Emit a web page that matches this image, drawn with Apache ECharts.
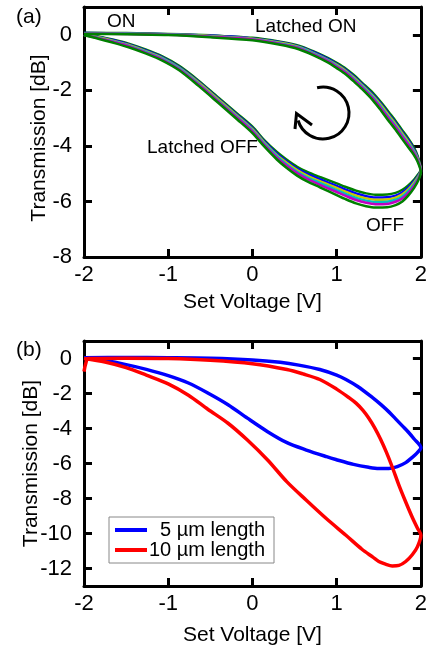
<!DOCTYPE html>
<html>
<head>
<meta charset="utf-8">
<script src="https://cdn.jsdelivr.net/npm/echarts@6/dist/echarts.min.js"></script>
<style>
html,body{margin:0;padding:0;background:#fff;}
#chart{width:430px;height:650px;}
</style>
</head>
<body>
<div id="chart"></div>
<script>
// ---------- Data ----------
const xTicks = [-2, -1, 0, 1, 2];
const aYTicks = [-8, -6, -4, -2, 0];
const bYTicks = [-12, -10, -8, -6, -4, -2, 0];

// Panel (a): set voltage along the sweep (latched-ON branch up to 2 V, then back down to -2 V)
const aVolt = [-2, -1.5, -1, -0.5, 0, 0.33, 0.55, 0.72, 0.9, 1.0, 1.11, 1.2, 1.3, 1.43, 1.53, 1.62, 1.7, 1.77, 1.85, 1.91, 1.96, 2,
  1.97, 1.92, 1.85, 1.78, 1.70, 1.6, 1.46, 1.35, 1.23, 1.1, 1.0, 0.8, 0.65, 0.53, 0.4, 0.29, 0.14, 0, -0.18, -0.41, -0.64, -0.87, -1.07, -1.27, -1.47, -1.66, -1.83, -2];
const aTrace1 = [0.07, 0.06, 0.03, -0.02, -0.11, -0.25, -0.39, -0.59, -0.84, -1.01, -1.22, -1.44, -1.72, -2.09, -2.44, -2.79, -3.1, -3.4, -3.73, -4.02, -4.35, -4.86,
  -5.01, -5.21, -5.42, -5.58, -5.69, -5.75, -5.76, -5.71, -5.61, -5.47, -5.35, -5.12, -4.94, -4.75, -4.48, -4.22, -3.79, -3.31, -2.84, -2.25, -1.65, -1.12, -0.78, -0.53, -0.32, -0.17, -0.06, 0.02];
const aTrace2 = [0.06, 0.05, 0.02, -0.03, -0.13, -0.27, -0.42, -0.62, -0.88, -1.05, -1.27, -1.49, -1.77, -2.15, -2.5, -2.86, -3.17, -3.47, -3.8, -4.08, -4.4, -4.88,
  -5.06, -5.27, -5.5, -5.67, -5.79, -5.85, -5.86, -5.81, -5.71, -5.57, -5.44, -5.2, -5.01, -4.82, -4.54, -4.28, -3.84, -3.36, -2.89, -2.29, -1.69, -1.16, -0.81, -0.56, -0.35, -0.19, -0.08, 0.01];
const aTrace3 = [0.05, 0.04, 0.01, -0.04, -0.14, -0.29, -0.44, -0.65, -0.91, -1.08, -1.3, -1.53, -1.81, -2.2, -2.55, -2.91, -3.22, -3.52, -3.85, -4.13, -4.43, -4.89,
  -5.1, -5.32, -5.57, -5.74, -5.86, -5.93, -5.94, -5.89, -5.79, -5.64, -5.51, -5.27, -5.07, -4.87, -4.59, -4.33, -3.88, -3.4, -2.92, -2.32, -1.72, -1.19, -0.84, -0.59, -0.37, -0.21, -0.09, 0.0];
const aTrace4 = [0.05, 0.04, 0.01, -0.06, -0.16, -0.31, -0.46, -0.67, -0.93, -1.12, -1.34, -1.57, -1.85, -2.24, -2.61, -2.97, -3.28, -3.58, -3.91, -4.17, -4.47, -4.91,
  -5.14, -5.38, -5.63, -5.82, -5.94, -6.01, -6.02, -5.97, -5.87, -5.72, -5.59, -5.33, -5.13, -4.93, -4.65, -4.37, -3.92, -3.44, -2.96, -2.36, -1.76, -1.21, -0.86, -0.61, -0.39, -0.23, -0.11, 0.0];
const aTrace5 = [0.04, 0.03, 0.0, -0.07, -0.17, -0.33, -0.48, -0.70, -0.96, -1.15, -1.37, -1.61, -1.89, -2.29, -2.66, -3.02, -3.33, -3.63, -3.96, -4.22, -4.5, -4.92,
  -5.18, -5.43, -5.7, -5.89, -6.01, -6.09, -6.1, -6.05, -5.95, -5.79, -5.66, -5.4, -5.19, -4.98, -4.7, -4.42, -3.96, -3.48, -2.99, -2.39, -1.79, -1.24, -0.89, -0.64, -0.41, -0.25, -0.12, -0.01];
const aTrace6 = [0.03, 0.02, -0.01, -0.09, -0.2, -0.36, -0.52, -0.73, -1.0, -1.2, -1.43, -1.67, -1.95, -2.36, -2.74, -3.11, -3.42, -3.72, -4.05, -4.29, -4.56, -4.95,
  -5.24, -5.51, -5.79, -6.0, -6.13, -6.21, -6.22, -6.17, -6.07, -5.91, -5.77, -5.49, -5.28, -5.07, -4.78, -4.49, -4.02, -3.54, -3.05, -2.44, -1.84, -1.28, -0.93, -0.67, -0.45, -0.28, -0.14, -0.02];
const aTraceColors = ['#008000', '#0000ff', '#c8c800', '#00c0c0', '#c000c0', '#008000'];

// Panel (b)
const bNames = ['5 µm length', '10 µm length'];
const bBlueVolt = [-2, -1.5, -1, -0.5, 0, 0.33, 0.55, 0.8, 1.0, 1.11, 1.25, 1.43, 1.53, 1.62, 1.7, 1.78, 1.85, 1.92, 2,
  1.95, 1.89, 1.82, 1.72, 1.62, 1.5, 1.38, 1.2, 0.99, 0.88, 0.64, 0.41, 0.18, -0.06, -0.29, -0.53, -0.76, -1.0, -1.26, -1.5, -1.75, -2];
const bBlueTrans = [0.05, 0.06, 0.05, 0.02, -0.08, -0.22, -0.38, -0.63, -0.95, -1.2, -1.6, -2.25, -2.65, -3.05, -3.45, -3.85, -4.2, -4.6, -5.1,
  -5.42, -5.68, -5.95, -6.18, -6.28, -6.29, -6.22, -6.05, -5.77, -5.61, -5.23, -4.81, -4.18, -3.41, -2.64, -1.97, -1.4, -0.98, -0.62, -0.35, -0.12, 0.05];
const bRedVolt = [-2, -1.98, -1.95, -1.5, -1, -0.5, 0, 0.41, 0.6, 0.8, 1.0, 1.15, 1.23, 1.31, 1.38, 1.45, 1.52, 1.59, 1.66, 1.74, 1.82, 1.9, 1.96, 2,
  1.96, 1.9, 1.82, 1.74, 1.66, 1.58, 1.5, 1.43, 1.3, 1.11, 0.88, 0.64, 0.41, 0.18, -0.06, -0.29, -0.53, -0.76, -1.0, -1.26, -1.5, -1.75, -2];
const bRedTrans = [-0.75, -0.3, 0.0, 0.02, 0.0, -0.1, -0.3, -0.63, -0.88, -1.2, -1.75, -2.25, -2.55, -2.95, -3.4, -3.95, -4.6, -5.35, -6.2, -7.25, -8.2, -9.1, -9.7, -10.1,
  -10.75, -11.2, -11.6, -11.82, -11.85, -11.75, -11.6, -11.35, -10.9, -10.1, -9.16, -8.1, -7.05, -5.8, -4.66, -3.7, -2.9, -2.1, -1.45, -0.95, -0.52, -0.2, 0.0];

// ---------- Chart ----------
const FONT = '"Liberation Sans", Arial, sans-serif';
const pair = (xs, ys) => xs.map((x, i) => [x, ys[i]]);

function xAx(grid, pos, withLabels, nameGap) {
  return {
    type: 'value', gridIndex: grid, position: pos, min: -2, max: 2,
    axisLine: { show: true, onZero: false, lineStyle: { color: '#000', width: 3 } },
    axisTick: { show: true, inside: true, length: 8, customValues: xTicks, lineStyle: { color: '#000', width: 3 } },
    axisLabel: { show: withLabels, customValues: xTicks, color: '#000', fontSize: 22, fontFamily: FONT, margin: 7 },
    splitLine: { show: false },
    name: withLabels ? 'Set Voltage [V]' : '', nameLocation: 'middle', nameGap: nameGap, nameMoveOverlap: false,
    nameTextStyle: { color: '#000', fontSize: 21, fontFamily: FONT }
  };
}
function yAx(grid, pos, withLabels, min, max, ticks, nameGap, namePad) {
  return {
    type: 'value', gridIndex: grid, position: pos, min: min, max: max,
    axisLine: { show: true, onZero: false, lineStyle: { color: '#000', width: 3 } },
    axisTick: { show: true, inside: true, length: 8, customValues: ticks, lineStyle: { color: '#000', width: 3 } },
    axisLabel: { show: withLabels, customValues: ticks, color: '#000', fontSize: 22, fontFamily: FONT, margin: 12 },
    splitLine: { show: false },
    name: withLabels ? 'Transmission [dB]' : '', nameLocation: 'middle', nameGap: nameGap, nameMoveOverlap: false,
    nameTextStyle: { color: '#000', fontSize: 21, fontFamily: FONT, padding: namePad || 0 }
  };
}

const aTraces = [aTrace1, aTrace2, aTrace3, aTrace4, aTrace5, aTrace6];
const series = aTraces.map((t, i) => ({
  type: 'line', xAxisIndex: 0, yAxisIndex: 0, data: pair(aVolt, t),
  showSymbol: false, symbol: 'none', smooth: 0.3, silent: true,
  lineStyle: { color: aTraceColors[i], width: 2.5 }, z: 2 + i
}));
series.push({
  name: bNames[0], type: 'line', xAxisIndex: 2, yAxisIndex: 2, data: pair(bBlueVolt, bBlueTrans),
  symbol: 'none', smooth: 0.3, lineStyle: { color: '#0000ff', width: 3.5 }, itemStyle: { color: '#0000ff' }
});
series.push({
  name: bNames[1], type: 'line', xAxisIndex: 2, yAxisIndex: 2, data: pair(bRedVolt, bRedTrans),
  symbol: 'none', smooth: 0.3, lineStyle: { color: '#ff0000', width: 3.5 }, itemStyle: { color: '#ff0000' }
});

const txt = (x, y, s, size) => ({
  type: 'text', x: x, y: y, z: 100,
  style: { text: s, font: size + 'px ' + FONT, fill: '#000', verticalAlign: 'middle', align: 'left' }
});

const option = {
  animation: false,
  backgroundColor: '#fff',
  grid: [
    { left: 84, top: 7, width: 342, height: 250 },
    { left: 84, top: 341, width: 342, height: 245 }
  ],
  xAxis: [xAx(0, 'bottom', true, 35), xAx(0, 'top', false, 0), xAx(1, 'bottom', true, 39), xAx(1, 'top', false, 0)],
  yAxis: [yAx(0, 'left', true, -8, 1, aYTicks, 34, [0, 12, 0, 0]), yAx(0, 'right', false, -8, 1, aYTicks, 0),
          yAx(1, 'left', true, -13, 1, bYTicks, 42), yAx(1, 'right', false, -13, 1, bYTicks, 0)],
  legend: {
    data: bNames, orient: 'vertical', left: 109, top: 517,
    padding: [3, 9, 3, 6], itemGap: 0, itemWidth: 32, itemHeight: 4, icon: 'rect',
    backgroundColor: '#fff', borderColor: '#888', borderWidth: 1,
    formatter: n => '{t|' + n + '}',
    textStyle: { color: '#000', fontSize: 20, fontFamily: FONT,
      rich: { t: { width: 113, align: 'right', fontSize: 20, fontFamily: FONT, lineHeight: 20 } } }
  },
  graphic: [
    txt(16, 17, '(a)', 21),
    txt(16, 350, '(b)', 21),
    txt(107, 22, 'ON', 19),
    txt(255, 27, 'Latched ON', 19),
    txt(147, 148, 'Latched OFF', 19),
    txt(366, 226, 'OFF', 19),
    { type: 'arc', z: 100, shape: { cx: 323, cy: 113, r: 26, startAngle: -1.8, endAngle: 2.85, clockwise: true },
      style: { stroke: '#000', lineWidth: 3, fill: null } },
    { type: 'polyline', z: 100, shape: { points: [[295, 129], [296.5, 113.5], [312, 125]] },
      style: { stroke: '#000', lineWidth: 3, fill: null } }
  ],
  series: series
};

const chart = echarts.init(document.getElementById('chart'), null, { renderer: 'canvas' });
chart.setOption(option);
</script>
</body>
</html>
